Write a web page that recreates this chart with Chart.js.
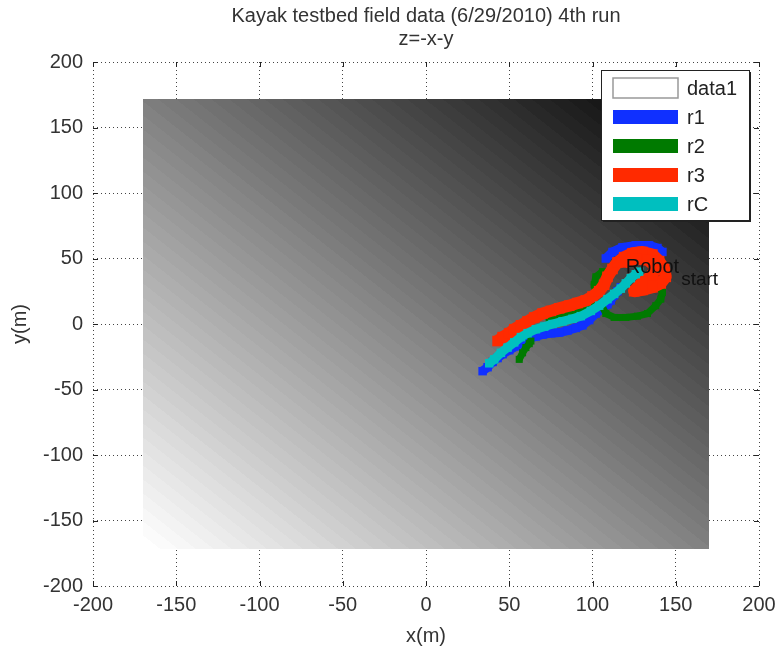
<!DOCTYPE html>
<html>
<head>
<meta charset="utf-8">
<script src="https://cdn.jsdelivr.net/npm/chart.js@4.4.0/dist/chart.umd.min.js"></script>
<style>
  html, body { margin: 0; padding: 0; background: #fff; }
</style>
</head>
<body>
<canvas id="myChart" width="776" height="653"></canvas>
<script>
// axes and tick labels
var axisRange = [-200, 200];
var axisTicks = [-200, -150, -100, -50, 0, 50, 100, 150, 200];

// extent of the z=-x-y surface
var imageX = [-170, 170];
var imageY = [-172, 172];

// run tracks (null splits a track into pieces)
var r1X = [34, 37, 40, 43, 46, 50, 54, 58, 62, 66, 70, 75, 80, 85, 90, 94, 98, 102, 106, 109, 111, 113, 115, 117, null,
           108, 112, 118, 126, 134, 139, 142];
var r1Y = [-36, -33, -29, -26, -23, -20, -17, -14, -11, -9.5, -8, -7, -6.5, -5, -3, -1, 3, 8, 12, 15, 18, 22, 25, 28, null,
           50, 55, 58.5, 60, 60, 58, 55];

var r2X = [56, 58, 60, 62, 63, null,
           74, 80, 85, 90, 96, 100, 102, 101, 102, 106, null,
           106, 108, 113, 120, 127, 133, 138, 141, 142, 140, 135];
var r2Y = [-27, -22, -18, -15, -13, null,
           3.5, 6, 7.5, 9.5, 13, 17, 23, 30, 36, 40, null,
           13, 8, 5, 5, 6, 8, 14, 19, 24, 30, 32];

var r3X = [43, 46, 50, 53, 57, 61, 65, 70, 75, 80, 86, 91, 96, 100, 104, 107, 109, 112, 115, 119, 124, 130, 136, 140, 143, 144, 141, 136, 130, 125,
           130, 136, 138, 133, 126, 119];
var r3Y = [-13, -10, -7, -4, -1, 2, 5, 8, 10, 12, 14, 16, 18, 21, 25, 30, 36, 42, 47, 51, 54, 55, 53, 48, 42, 36, 31, 28, 26, 25,
           32, 37, 44, 49, 50, 47];

var rCX = [38, 41, 45, 49, 53, 57, 61, 66, 71, 76, 82, 88, 93, 99, 104, 109, 113, 117, 120, 123, 126, 128];
var rCY = [-30, -27, -22, -18, -14, -10, -7, -4, -2, 0, 2, 4, 6, 10, 14, 19, 23, 27, 31, 35, 38, 40];

var startLabel = { x: 120, y: 43 };

function toPoints(xs, ys) {
  return xs.map(function (x, i) {
    return x === null ? { x: null, y: null } : { x: x, y: ys[i] };
  });
}

function track(label, xs, ys, color, width, order) {
  return {
    label: label,
    data: toPoints(xs, ys),
    showLine: true,
    spanGaps: false,
    borderColor: color,
    backgroundColor: color,
    borderWidth: width,
    borderJoinStyle: 'round',
    borderCapStyle: 'butt',
    pointStyle: 'rect',
    pointRadius: width / 2 + 1.5,
    pointBorderWidth: 0,
    order: order
  };
}

var font = "'Liberation Sans', Arial, sans-serif";

// gray surface, z=-x-y, 64 level gray map
var backdrop = {
  id: 'backdrop',
  beforeDatasetsDraw: function (chart) {
    var xs = chart.scales.x, ys = chart.scales.y, ctx = chart.ctx;
    var left = Math.round(xs.getPixelForValue(imageX[0]));
    var right = Math.round(xs.getPixelForValue(imageX[1]));
    var top = Math.round(ys.getPixelForValue(imageY[1]));
    var bottom = Math.round(ys.getPixelForValue(imageY[0]));
    var w = right - left, h = bottom - top;
    var off = document.createElement('canvas');
    off.width = w; off.height = h;
    var octx = off.getContext('2d');
    var img = octx.createImageData(w, h);
    var zMin = -(imageX[1] + imageY[1]), zMax = -(imageX[0] + imageY[0]);
    for (var j = 0; j < h; j++) {
      var y = ys.getValueForPixel(top + j + 0.5);
      for (var i = 0; i < w; i++) {
        var x = xs.getValueForPixel(left + i + 0.5);
        var t = (-x - y - zMin) / (zMax - zMin);
        var level = Math.max(0, Math.min(63, Math.floor(t * 64)));
        var g = Math.round(level / 63 * 255);
        var k = (j * w + i) * 4;
        img.data[k] = g; img.data[k + 1] = g; img.data[k + 2] = g; img.data[k + 3] = 255;
      }
    }
    octx.putImageData(img, 0, 0);
    ctx.drawImage(off, left, top);
  }
};

// titles, inward ticks, start label and the key box
var decorations = {
  id: 'decorations',
  afterDatasetsDraw: function (chart) {
    var ctx = chart.ctx, xs = chart.scales.x, ys = chart.scales.y;
    ctx.save();
    ctx.fillStyle = '#111';
    ctx.textBaseline = 'middle';
    ctx.textAlign = 'left';
    var px = xs.getPixelForValue(startLabel.x), py = ys.getPixelForValue(startLabel.y);
    ctx.font = '20px ' + font;
    ctx.fillText('Robot', px, py);
    var wRobot = ctx.measureText('Robot').width;
    ctx.font = '19px ' + font;
    ctx.fillText('start', px + wRobot + 2, py + 12);
    ctx.restore();
  },
  afterDraw: function (chart) {
    var ctx = chart.ctx, a = chart.chartArea, xs = chart.scales.x, ys = chart.scales.y;
    ctx.save();
    // titles
    ctx.fillStyle = '#333';
    ctx.textAlign = 'center';
    ctx.textBaseline = 'middle';
    ctx.font = '20px ' + font;
    var cx = (a.left + a.right) / 2;
    ctx.fillText('Kayak testbed field data (6/29/2010) 4th run', cx, 16);
    ctx.fillText('z=-x-y', cx, 39);

    // inward tick marks
    ctx.strokeStyle = '#222';
    ctx.lineWidth = 1;
    ctx.beginPath();
    axisTicks.forEach(function (v) {
      var x = Math.round(xs.getPixelForValue(v)) + 0.5;
      ctx.moveTo(x, a.bottom); ctx.lineTo(x, a.bottom - 5);
      ctx.moveTo(x, a.top); ctx.lineTo(x, a.top + 5);
      var y = Math.round(ys.getPixelForValue(v)) + 0.5;
      ctx.moveTo(a.left, y); ctx.lineTo(a.left + 5, y);
      ctx.moveTo(a.right, y); ctx.lineTo(a.right - 5, y);
    });
    ctx.stroke();

    // key box
    var bx = a.right - 158, by = a.top + 8, bw = 148, bh = 150;
    ctx.fillStyle = '#fff';
    ctx.fillRect(bx, by, bw, bh);
    ctx.strokeStyle = '#222';
    ctx.lineWidth = 1;
    ctx.strokeRect(bx + 0.5, by + 0.5, bw, bh);
    ctx.lineWidth = 2;
    ctx.beginPath();
    ctx.moveTo(bx + bw + 1, by + 2); ctx.lineTo(bx + bw + 1, by + bh + 1);
    ctx.lineTo(bx + 2, by + bh + 1);
    ctx.stroke();

    ctx.textAlign = 'left';
    ctx.font = '20px ' + font;
    chart.data.datasets.forEach(function (ds, i) {
      var cy = by + 18 + i * 29;
      if (i === 0) {
        ctx.fillStyle = '#fff';
        ctx.fillRect(bx + 12, cy - 10, 65, 20);
        ctx.strokeStyle = '#999';
        ctx.lineWidth = 1.5;
        ctx.strokeRect(bx + 12, cy - 10, 65, 20);
      } else {
        ctx.fillStyle = ds.backgroundColor;
        ctx.fillRect(bx + 12, cy - 7, 65, 14);
      }
      ctx.fillStyle = '#222';
      ctx.fillText(ds.label, bx + 86, cy + 1);
    });
    ctx.restore();
  }
};

var ctx = document.getElementById('myChart').getContext('2d');
var myChart = new Chart(ctx, {
  type: 'scatter',
  data: {
    datasets: [
      { label: 'data1', data: [], backgroundColor: '#fff', borderColor: '#999', order: 9 },
      track('r1', r1X, r1Y, '#1030ff', 9, 4),
      track('r2', r2X, r2Y, '#007a00', 7, 3),
      track('r3', r3X, r3Y, '#ff2a00', 12, 2),
      track('rC', rCX, rCY, '#00bfbf', 9, 1)
    ]
  },
  options: {
    responsive: false,
    animation: false,
    layout: { padding: { top: 62, left: 0, right: 17, bottom: 0 } },
    plugins: {
      legend: { display: false },
      tooltip: { enabled: false }
    },
    scales: {
      x: {
        type: 'linear',
        min: axisRange[0],
        max: axisRange[1],
        afterFit: function (scale) {
          scale.height = 67;
          scale.paddingLeft = 0;
          scale.paddingRight = 0;
        },
        border: { display: false, dash: [1, 3] },
        grid: { color: '#444', drawTicks: false, lineWidth: 1 },
        ticks: { stepSize: 50, padding: 7, maxRotation: 0, color: '#333', font: { family: font, size: 20 } },
        title: { display: true, text: 'x(m)', color: '#333', padding: { top: 0, bottom: 5 }, font: { family: font, size: 20 } }
      },
      y: {
        type: 'linear',
        min: axisRange[0],
        max: axisRange[1],
        afterFit: function (scale) {
          scale.width = 93;
          scale.paddingTop = 0;
          scale.paddingBottom = 0;
        },
        border: { display: false, dash: [1, 3] },
        grid: { color: '#444', drawTicks: false, lineWidth: 1 },
        ticks: { stepSize: 50, padding: 10, color: '#333', font: { family: font, size: 20 } },
        title: { display: true, text: 'y(m)', color: '#333', padding: { top: 8, bottom: 0 }, font: { family: font, size: 20 } }
      }
    }
  },
  plugins: [backdrop, decorations]
});
</script>
</body>
</html>
